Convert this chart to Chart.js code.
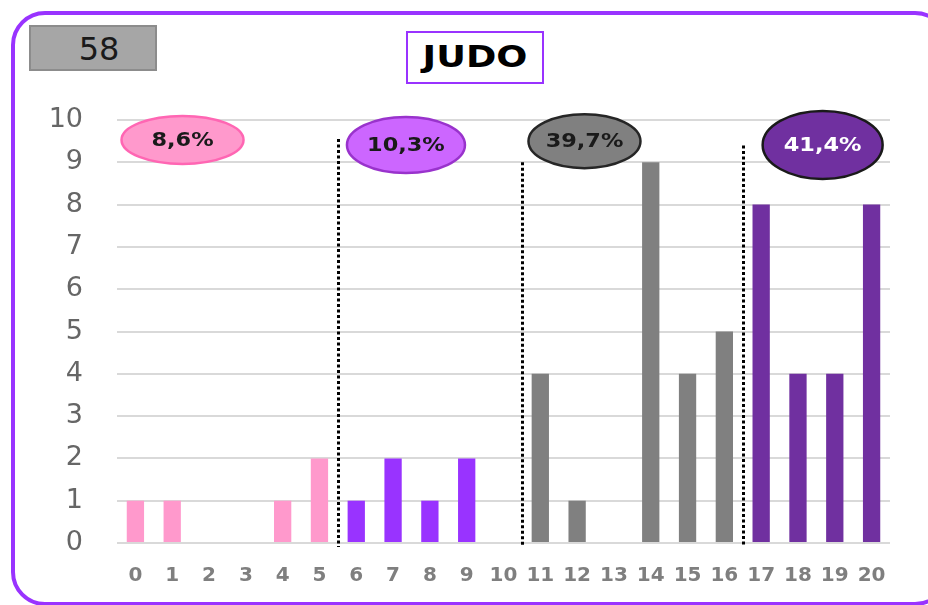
<!DOCTYPE html>
<html>
<head>
<meta charset="utf-8">
<script src="https://cdn.jsdelivr.net/npm/chart.js@4.4.1/dist/chart.umd.min.js"></script>
<style>
    body { margin: 0; background: #fff; }
    #wrap { position: relative; width: 928px; height: 605px; overflow: hidden; background: #fff; }
    #frame { position: absolute; left: 11px; top: 11px; width: 930px; height: 587px; border: 4px solid #9933FF; border-radius: 34px; }
    #total { position: absolute; left: 29px; top: 25px; height: 42px; background: #A6A6A6; border: 2px solid #8C8C8C;
             font: 32px 'DejaVu Sans'; color: #1a1a1a; text-align: center; line-height: 44px; padding-left: 12px; width: 112px; }
    #title { position: absolute; left: 406px; top: 31px; width: 134px; height: 49px; border: 2.5px solid #9933FF; background: #fff;
             text-align: center; line-height: 58px; }
    #title span { display: inline-block; font: bold 30px 'DejaVu Sans'; color: #000; transform: scaleX(1.22); }
    canvas { position: absolute; left: 0; top: 0; }
</style>
</head>
<body>
<div id="wrap">
    <div id="frame"></div>
    <canvas id="chart" width="928" height="605"></canvas>
    <div id="total">58</div>
    <div id="title"><span>JUDO</span></div>
</div>
<script>
// Dados do gráfico
const categorias = ['0', '1', '2', '3', '4', '5', '6', '7', '8', '9', '10',
                    '11', '12', '13', '14', '15', '16', '17', '18', '19', '20'];
const quantidades = [1, 1, 0, 0, 1, 2, 1, 2, 1, 2, 0, 4, 1, 0, 9, 4, 5, 8, 4, 4, 8];
const grupos = [0, 0, 0, 0, 0, 0, 1, 1, 1, 1, 1, 2, 2, 2, 2, 2, 2, 3, 3, 3, 3];
const percentuais = ['8,6%', '10,3%', '39,7%', '41,4%'];
const yTicks = [0, 1, 2, 3, 4, 5, 6, 7, 8, 9, 10];

const coresGrupo = ['#FF99CC', '#9933FF', '#808080', '#7030A0'];

// Separadores pontilhados e balões de percentual
const separadores = [
    { x: 5.5, topo: 9.55 },
    { x: 10.5, topo: 9.0 },
    { x: 16.5, topo: 9.4 }
];
const baloes = [
    { x: 1.28, y: 9.53, rx: 61, ry: 24, fill: '#FF99CC', stroke: '#FF66B3', texto: '#1a1a1a' },
    { x: 7.35, y: 9.41, rx: 59, ry: 28, fill: '#CC66FF', stroke: '#9933CC', texto: '#1a1a1a' },
    { x: 12.2, y: 9.50, rx: 56, ry: 27, fill: '#808080', stroke: '#262626', texto: '#1a1a1a' },
    { x: 18.67, y: 9.41, rx: 60, ry: 34, fill: '#7030A0', stroke: '#1a1a1a', texto: '#ffffff' }
];

const anotacoesPlugin = {
    id: 'anotacoes',
    afterDatasetsDraw(chart) {
        const { ctx, scales: { x, y } } = chart;
        ctx.save();
        // linhas pontilhadas
        ctx.strokeStyle = '#000';
        ctx.lineWidth = 3;
        ctx.setLineDash([3, 2.5]);
        separadores.forEach(s => {
            const px = Math.round(x.getPixelForValue(s.x)) + 0.5;
            ctx.beginPath();
            ctx.moveTo(px, y.getPixelForValue(s.topo));
            ctx.lineTo(px, y.getPixelForValue(0) + 4);
            ctx.stroke();
        });
        ctx.setLineDash([]);
        // balões
        baloes.forEach((b, i) => {
            const cx = x.getPixelForValue(b.x);
            const cy = y.getPixelForValue(b.y);
            ctx.beginPath();
            ctx.ellipse(cx, cy, b.rx, b.ry, 0, 0, Math.PI * 2);
            ctx.fillStyle = b.fill;
            ctx.fill();
            ctx.lineWidth = 2.5;
            ctx.strokeStyle = b.stroke;
            ctx.stroke();
            ctx.fillStyle = b.texto;
            ctx.font = "bold 20px 'DejaVu Sans'";
            ctx.textAlign = 'center';
            ctx.textBaseline = 'middle';
            ctx.save();
            ctx.translate(cx, cy + 1);
            ctx.scale(1.12, 1);
            ctx.fillText(percentuais[i], 0, 0);
            ctx.restore();
        });
        ctx.restore();
    }
};

new Chart(document.getElementById('chart').getContext('2d'), {
    type: 'bar',
    data: {
        labels: categorias,
        datasets: [{
            data: quantidades,
            backgroundColor: grupos.map(g => coresGrupo[g]),
            categoryPercentage: 1,
            barPercentage: 0.47
        }]
    },
    options: {
        responsive: false,
        animation: false,
        layout: { padding: { top: 120, right: 38, bottom: 0, left: 0 } },
        plugins: {
            legend: { display: false },
            tooltip: { enabled: false },
            title: { display: false }
        },
        scales: {
            x: {
                grid: { display: false, drawTicks: false },
                border: { display: false },
                ticks: {
                    color: '#7F7F7F',
                    font: { family: 'DejaVu Sans', size: 20, weight: 'bold' },
                    padding: 21,
                    maxRotation: 0,
                    autoSkip: false
                },
                afterFit: scale => { scale.height = 62; }
            },
            y: {
                min: 0,
                max: 10,
                afterBuildTicks: scale => { scale.ticks = yTicks.map(v => ({ value: v })); },
                grid: { color: '#D9D9D9', lineWidth: 2, drawTicks: false },
                border: { display: false },
                ticks: {
                    color: '#666666',
                    font: { family: 'DejaVu Sans', size: 27 },
                    padding: 34
                },
                afterFit: scale => { scale.width = 117; }
            }
        }
    },
    plugins: [anotacoesPlugin]
});
</script>
</body>
</html>
